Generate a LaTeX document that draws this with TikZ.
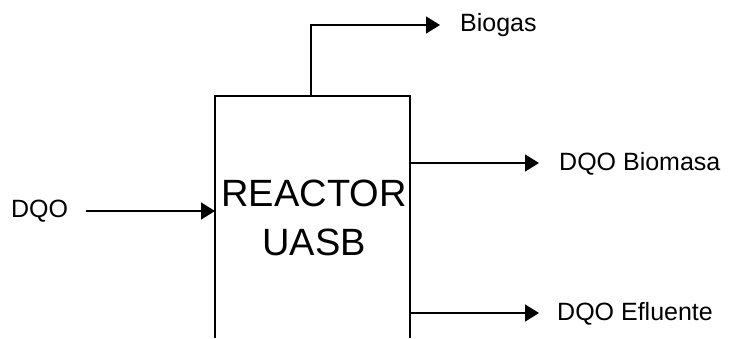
\documentclass[tikz,border=0pt]{standalone}
\usepackage{fontspec}
\setmainfont{Liberation Sans}
\usetikzlibrary{arrows.meta}
\begin{document}
\begin{tikzpicture}[x=1pt,y=-1pt,
  line/.style={line width=1.4pt,black},
  flow/.style={line, -{Triangle[length=14pt,width=17pt]}},
  lbl/.style={font=\fontsize{25}{29}\selectfont, inner sep=0pt, anchor=west},
]
\useasboundingbox (0,0) rectangle (736,338);
% reactor box (open at the bottom edge of picture)
\coordinate (bl) at (215,338);
\coordinate (tl) at (215,96);
\coordinate (tr) at (410,96);
\coordinate (br) at (410,338);
\draw[line] (bl) -- (tl) -- (tr) -- (br);
\node[font=\fontsize{38}{49}\selectfont, align=center, inner sep=0pt] (reactor) at (314,218) {REACTOR\\UASB};
% input
\node[lbl] (dqo) at (11,211) {DQO};
\coordinate (in0) at (86,211);
\coordinate (in1) at (215,211);
\draw[flow] (in0) -- (in1);
% biogas
\coordinate (g0) at (311,96);
\coordinate (g1) at (311,25);
\node[lbl] (biogas) at (460,25) {Biogas};
\draw[flow] (g0) -- (g1) -- ([xshift=-20pt]biogas.west);
% biomasa
\coordinate (b0) at (410,163);
\node[lbl] (biomasa) at (559,164) {DQO Biomasa};
\draw[flow] (b0) -- ([xshift=-20pt]biomasa.west|-b0);
% efluente
\coordinate (e0) at (410,313);
\node[lbl] (efluente) at (557,314) {DQO Efluente};
\draw[flow] (e0) -- ([xshift=-18pt]efluente.west|-e0);
\end{tikzpicture}
\end{document}
